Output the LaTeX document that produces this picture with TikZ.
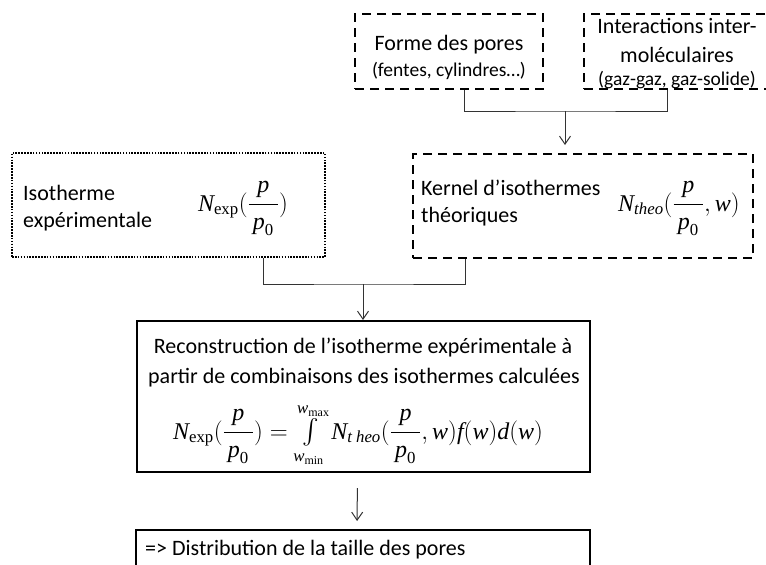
\documentclass[tikz,border=0pt]{standalone}
\usepackage{amsmath}
\usepackage{fontspec}
\setmainfont{Carlito}
\newfontfamily\tms{Liberation Serif}
\newcommand\ti[1]{\text{\tms\itshape #1}}
\newcommand\tr[1]{\text{\tms #1}}
\newcommand\pfrac{\dfrac{\ti{p}\rule[-9pt]{0pt}{9pt}}{\rule{0pt}{21pt}\,\ti{p}_{\tr{0}}\,}}
\usetikzlibrary{calc,arrows.meta}
\tikzset{
  dashbox/.style={draw=black, line width=2pt, dash pattern=on 9pt off 6pt, inner sep=0pt},
  dotbox/.style={draw=black, line width=1.6pt, dash pattern=on 1.6pt off 1.3pt, inner sep=0pt},
  solidbox/.style={draw=black, line width=2pt, inner sep=0pt},
  conn/.style={draw=black!80, line width=1pt},
  arr/.style={conn, -{Straight Barb[length=8pt,width=11pt,line width=1pt]}},
  txt/.style={font=\fontsize{22}{26.5}\selectfont, inner sep=0pt},
  smalltxt/.style={font=\fontsize{19.5}{23}\selectfont, inner sep=0pt},
  mathtxt/.style={font=\fontsize{24}{28}\selectfont, inner sep=0pt},
}
\begin{document}
\begin{tikzpicture}[x=1pt,y=-1pt]
\useasboundingbox (0,0) rectangle (766,565);
% boxes
\node[dashbox, minimum width=188pt, minimum height=75pt] (forme) at (449,51.5) {};
\node[dashbox, minimum width=188pt, minimum height=75pt] (inter) at (678,51.5) {};
\node[dotbox, minimum width=313pt, minimum height=104pt] (iso) at (168.5,205) {};
\node[dashbox, minimum width=340pt, minimum height=104pt] (kernel) at (583,206) {};
\node[solidbox, minimum width=453pt, minimum height=151pt] (recon) at (363.5,396.5) {};
\node[solidbox, minimum width=454pt, minimum height=50pt] (final) at (363,555) {};
% texts
\node[txt, anchor=base] (forme1) at (449,50) {Forme des pores};
\node[smalltxt, anchor=base] (forme2) at (449,76) {(fentes, cylindres…)};
\node[txt, anchor=base] (inter1) at (677,33) {Interactions inter-};
\node[txt, anchor=base] (inter2) at (677,62) {moléculaires};
\node[smalltxt, anchor=base] (inter3) at (677,85) {(gaz-gaz, gaz-solide)};
\node[txt, anchor=base west] (iso1) at (23,200) {Isotherme};
\node[txt, anchor=base west] (iso2) at (23,227) {expérimentale};
\node[mathtxt, anchor=base] (isof) at (243,211) {$\ti{N}_{\tr{exp}}(\pfrac)$};
\node[txt, anchor=base west] (ker1) at (421,195) {Kernel d’isothermes};
\node[txt, anchor=base west] (ker2) at (421,222) {théoriques};
\node[mathtxt, anchor=base] (kerf) at (679,211) {$\ti{N}_{\ti{theo}}(\pfrac,\ti{w})$};
\node[txt, anchor=base] (rec1) at (363,353) {Reconstruction de l’isotherme expérimentale à};
\node[txt, anchor=base] (rec2) at (364,383) {partir de combinaisons des isothermes calculées};
\node[mathtxt, anchor=base] (recf) at (358,439) {$\ti{N}_{\tr{exp}}(\pfrac) = \int\limits_{\ti{w}_{\tr{min}}}^{\ti{w}_{\tr{max}}} \ti{N}_{\ti{t heo}}(\pfrac,\ti{w})\ti{f}(\ti{w})\ti{d}(\ti{w})$};
\node[txt, anchor=base west] (fin1) at (145,555) {=> Distribution de la taille des pores};
% connectors
\coordinate (j1) at (565,111);
\draw[conn] ($(forme.south)+(15,0)$) |- (j1) -| ($(inter.south)+(-11,0)$);
\draw[arr, shorten >=8pt] (j1) -- (j1 |- kernel.north);
\coordinate (j2) at (363,284);
\draw[conn] ($(iso.south)+(94.5,0)$) |- (j2) -| ($(kernel.south)+(-118,0)$);
\draw[arr] (j2) -- (j2 |- recon.north);
\draw[arr, shorten <=15pt, shorten >=8pt] ($(recon.south)+(-6,0)$) -- ($(final.north)+(-6,0)$);
\end{tikzpicture}
\end{document}
